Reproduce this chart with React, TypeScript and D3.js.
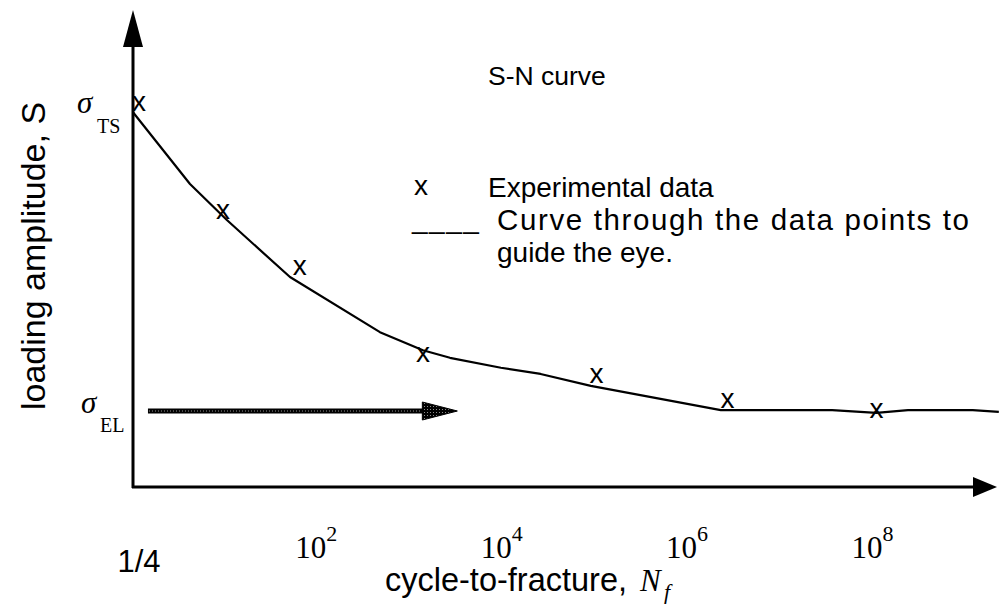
import React from "react";
import * as d3 from "d3";

// cycles to fracture (N) and loading amplitude (S, arbitrary units)
const expN = [1.16, 9.35, 63, 1350, 1.0e5, 2.6e6, 1.05e8];
const expS = [80.6, 57.9, 46.1, 27.8, 23.4, 18.1, 16.0];

// hand-drawn guide curve through the points
const curveN = [1, 4.12, 10.3, 49.4, 462, 1343, 2630, 9330, 2.5e4, 8.7e4, 2.2e6, 3.5e7, 1.05e8, 2.3e8, 1.15e9, 2.2e9];
const curveS = [78.9, 63.8, 56.2, 44.2, 32.6, 28.8, 27.2, 25.1, 23.8, 21.3, 16.2, 16.2, 15.6, 16.2, 16.2, 15.8];

const tickN = [1, 1e2, 1e4, 1e6, 1e8];
const tickExp = ["", "2", "4", "6", "8"];

const sigmaTS = 78.9;
const sigmaEL = 16.0;
const elArrowN = [1.45, 3160];

const SANS = "'Liberation Sans', Arial, sans-serif";
const SERIF = "'Liberation Serif', 'Times New Roman', serif";

export default function App() {
  const W = 999, H = 604;
  const x = d3.scaleLog().domain([1, 2e9]).range([133, 995]);
  const y = d3.scaleLinear().domain([0, 100]).range([487, 12]);

  const x0 = x(1), y0 = y(0);
  const yTop = 10;
  const xEnd = 997;

  const curve = curveN.map((n, i) => [n, curveS[i]] as [number, number]);
  const line = d3.line<[number, number]>().x(d => x(d[0])).y(d => y(d[1]));

  const pts = expN.map((n, i) => ({ n, s: expS[i] }));

  const ely = y(sigmaEL);
  const ex0 = x(elArrowN[0]), ex1 = x(elArrowN[1]);
  const headLen = 35;

  return (
    <svg width={W} height={H} style={{ position: "absolute", left: 0, top: 0, background: "#fff" }}>
      <defs>
        <pattern id="dots" width="3" height="3" patternUnits="userSpaceOnUse">
          <rect width="3" height="3" fill="#000" />
          <rect x="1" y="1" width="1" height="1" fill="#fff" opacity="0.55" />
        </pattern>
      </defs>

      {/* axes */}
      <line x1={x0} y1={y0 + 1} x2={x0} y2={yTop + 30} stroke="#000" strokeWidth={3} />
      <polygon points={`${x0},${yTop} ${x0 - 10},${yTop + 37} ${x0 + 10},${yTop + 37}`} fill="#000" />
      <line x1={x0 - 1} y1={y0} x2={xEnd - 20} y2={y0} stroke="#000" strokeWidth={3} />
      <polygon points={`${xEnd},${y0} ${xEnd - 24},${y0 - 10} ${xEnd - 24},${y0 + 10}`} fill="#000" />

      {/* guide curve */}
      <path d={line(curve) || ""} fill="none" stroke="#000" strokeWidth={2.2} strokeLinejoin="round" />

      {/* experimental points */}
      {pts.map((p, i) => (
        <text key={i} x={x(p.n)} y={y(p.s) + 7} textAnchor="middle" fontFamily={SANS} fontSize={28}>x</text>
      ))}

      {/* endurance limit arrow */}
      <rect x={ex0} y={ely - 2.5} width={ex1 - headLen - ex0 + 2} height={5} fill="#000" />
      <line x1={ex0 + 1} y1={ely} x2={ex1 - headLen} y2={ely} stroke="#fff" strokeWidth={1} strokeDasharray="1 2" opacity={0.6} />
      <polygon points={`${ex1 - headLen},${ely - 9} ${ex1},${ely} ${ex1 - headLen},${ely + 9}`} fill="url(#dots)" stroke="#000" strokeWidth={1} />

      {/* sigma labels */}
      <text x={77} y={y(sigmaTS) + 1} fontFamily={SERIF} fontStyle="italic" fontSize={31}>σ</text>
      <text x={97} y={y(sigmaTS) + 21} fontFamily={SERIF} fontSize={20}>TS</text>
      <text x={81} y={ely + 2} fontFamily={SERIF} fontStyle="italic" fontSize={31}>σ</text>
      <text x={100} y={ely + 21} fontFamily={SERIF} fontSize={20}>EL</text>

      {/* x tick labels */}
      {tickN.map((n, i) =>
        i === 0 ? (
          <text key={i} x={x(n) + 6} y={572} textAnchor="middle" fontFamily={SANS} fontSize={31}>1/4</text>
        ) : (
          <text key={i} x={x(n) - 2} y={558} textAnchor="middle" fontFamily={SERIF} fontSize={31}>
            10<tspan dy={-17} fontSize={22}>{tickExp[i]}</tspan>
          </text>
        )
      )}

      {/* axis titles */}
      <text x={385} y={591} fontFamily={SANS} fontSize={32.5}>cycle-to-fracture,</text>
      <text x={640} y={591} fontFamily={SERIF} fontStyle="italic" fontSize={31}>N</text>
      <text x={664} y={599} fontFamily={SERIF} fontStyle="italic" fontSize={22}>f</text>
      <text transform="rotate(-90)" x={-410} y={45} fontFamily={SANS} fontSize={34}>loading amplitude, S</text>

      {/* title and legend */}
      <text x={488} y={85} fontFamily={SANS} fontSize={26.5}>S-N curve</text>
      <text x={421} y={195} textAnchor="middle" fontFamily={SANS} fontSize={28}>x</text>
      <text x={488} y={197} fontFamily={SANS} fontSize={28}>Experimental data</text>
      <text x={412} y={228} fontFamily={SANS} fontSize={28} letterSpacing={1.5}>____</text>
      <text x={497} y={230} fontFamily={SANS} fontSize={29.5} textLength={472} lengthAdjust="spacing">Curve through the data points to</text>
      <text x={497} y={262} fontFamily={SANS} fontSize={28}>guide the eye.</text>
    </svg>
  );
}
